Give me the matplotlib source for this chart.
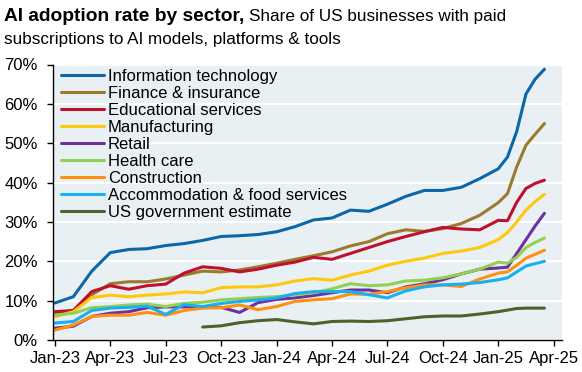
import numpy as np
import matplotlib.pyplot as plt

plt.rcParams['font.family'] = ['Liberation Sans', 'DejaVu Sans']

# months since Jan-2023 (monthly, then half-monthly at the end)
months = list(range(25)) + [24.5, 25, 25.5, 26, 26.5]

info_tech = [9.4, 11, 17.5, 22.2, 23, 23.2, 24, 24.5, 25.3, 26.3, 26.5, 26.8, 27.5, 28.8, 30.5,
             31, 33, 32.7, 34.5, 36.5, 38, 38, 38.8, 41, 43.5, 46.5, 53, 62.5, 66.3, 68.8]
finance = [6.8, 7.5, 11.5, 14.3, 14.8, 14.8, 15.5, 16.5, 17.5, 17.3, 17.8, 18.6, 19.5, 20.5, 21.4,
           22.4, 23.9, 25, 27, 28, 27.6, 28.3, 29.6, 31.7, 34.9, 37.2, 44, 49.5, 52.3, 55]
education = [7.2, 7.5, 12.3, 13.8, 12.9, 13.8, 14.2, 17, 18.6, 18.2, 17.3, 18, 19, 19.8, 21,
             20.5, 22, 23.5, 25, 26.3, 27.5, 28.6, 28.2, 28, 30.4, 30.3, 35, 38.5, 39.8, 40.6]
manufacturing = [5.9, 7.2, 10.8, 11.4, 11, 11.4, 11.7, 12.2, 12, 13.3, 13.5, 13.5, 14, 15, 15.6,
                 15.2, 16.5, 17.5, 19, 20, 20.8, 22, 22.6, 23.5, 25.5, 27.3, 30, 33, 35.2, 37]
retail = [3, 3.5, 6, 6.8, 7.2, 8.2, 8.4, 8.4, 8.4, 8.3, 7, 9.5, 10.3, 10.7, 11.3,
          12, 12.7, 12.7, 12, 13.5, 14.3, 15.3, 16.8, 18, 18.3, 18.5, 22, 25.5, 29, 32.2]
health = [6.3, 6.8, 8.2, 8.5, 8.9, 9.1, 8.5, 9.3, 9.6, 10.2, 10.5, 10.8, 11, 11.5, 12,
          13, 14.3, 13.8, 14, 15, 15.2, 15.8, 16.8, 18, 19.8, 19.5, 21, 23.5, 24.8, 25.9]
construction = [2.5, 3.8, 6, 6.3, 6.3, 7, 6.3, 7.5, 8.1, 8.2, 8.9, 7.7, 8.5, 9.8, 10.2,
                10.5, 11.7, 11.6, 12.3, 13.3, 14, 14, 13.6, 15.5, 17, 17.3, 19, 20.8, 21.8, 22.8]
accommodation = [4.3, 4.7, 7.5, 8.1, 8.3, 8.6, 6.5, 9, 8.5, 9.3, 9.8, 10.2, 10.7, 11.8, 12.3,
                 12.3, 12.3, 11.5, 10.7, 12.5, 13.5, 14, 14.2, 14.6, 15.3, 15.8, 17.3, 18.8, 19.4, 20]
us_gov = [np.nan] * 8 + [3.3, 3.6, 4.4, 4.9, 5.2, 4.6, 4.1, 4.7, 4.8, 4.7, 4.9, 5.4, 5.9, 6.1,
                         6.1, 6.6, 7.2, 7.6, 8, 8.1, 8.1, 8.1]

labels = ["Information technology", "Finance & insurance", "Educational services",
          "Manufacturing", "Retail", "Health care", "Construction",
          "Accommodation & food services", "US government estimate"]
colors = ["#0B67A8", "#9B7B2B", "#C00F2F", "#FFC80A", "#7030A0", "#92D050",
          "#FF9010", "#1AAFEF", "#4F6228"]
series = [info_tech, finance, education, manufacturing, retail, health,
          construction, accommodation, us_gov]

tick_pos = list(range(0, 28, 3))
tick_labels = ["Jan-23", "Apr-23", "Jul-23", "Oct-23", "Jan-24", "Apr-24",
               "Jul-24", "Oct-24", "Jan-25", "Apr-25"]

fig = plt.figure(figsize=(5.82, 3.72), dpi=100)
ax = fig.add_axes([53 / 582, 1 - 340 / 372, 509 / 582, 275.5 / 372])
ax.set_facecolor("#E8F0F4")

for vals, lab, col in zip(series, labels, colors):
    ax.plot(months, vals, color=col, lw=2.2, label=lab,
            solid_capstyle="round", solid_joinstyle="round")

ax.set_ylim(0, 70)
ax.set_xlim(-0.1, 27.45)
ax.set_yticks(range(0, 71, 10))
ax.set_yticklabels([f"{v}%" for v in range(0, 71, 10)])
ax.set_xticks(tick_pos)
ax.set_xticklabels(tick_labels)
ax.grid(axis="y", color="white", lw=1.5)
ax.set_axisbelow(True)
for s in ["top", "right"]:
    ax.spines[s].set_visible(False)
for s in ["left", "bottom"]:
    ax.spines[s].set_color("black")
    ax.spines[s].set_linewidth(1.0)
ax.tick_params(axis="both", labelsize=12, length=4, width=1, colors="black")
ax.tick_params(axis="y", pad=7)
ax.tick_params(axis="x", pad=4)

ax.legend(loc="upper left", bbox_to_anchor=(0.0, 1.015), frameon=False, fontsize=12,
          handlelength=2.55, handletextpad=0.25, labelspacing=0.12, borderaxespad=0.1)

t1 = fig.text(4 / 582, 1 - 21 / 372, "AI adoption rate by sector,", fontsize=13.8,
              fontweight="bold", va="baseline")
fig.canvas.draw()
bb = t1.get_window_extent()
fig.text((bb.x1 + 5) / 582, 1 - 21 / 372, "Share of US businesses with paid",
         fontsize=12.3, va="baseline")
fig.text(4 / 582, 1 - 44 / 372, "subscriptions to AI models, platforms & tools",
         fontsize=12.3, va="baseline")

fig.savefig("out.png", dpi=100)
